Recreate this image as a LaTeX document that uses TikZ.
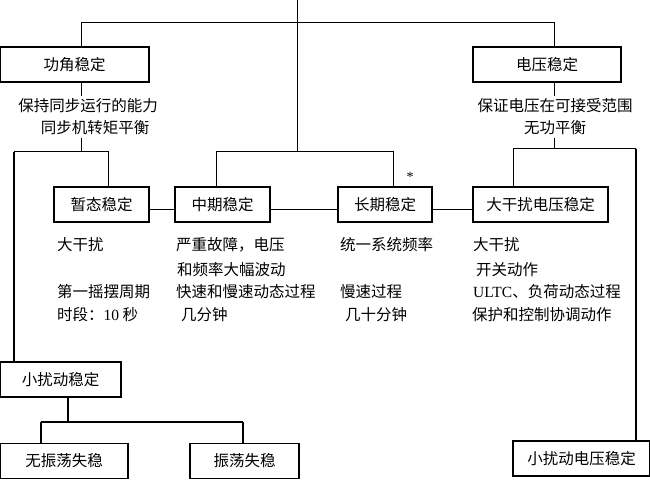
\documentclass[tikz,border=0pt]{standalone}
\usepackage{fontspec}
\setmainfont{Liberation Serif}
\newfontfamily\cjk{Noto Sans CJK SC}
\begin{document}
\begin{tikzpicture}[x=1pt,y=1pt,
  txtfont/.style={font=\cjk\fontsize{15.5}{18}\selectfont},
  box/.style={draw, line width=1.2pt, minimum height=35pt, inner sep=0pt, txtfont},
  bigbox/.style={box, line width=2pt},
  desc/.style={anchor=west, inner sep=0pt, txtfont},
  ctext/.style={inner sep=3pt, txtfont},
  conn/.style={line width=1pt},
  heavy/.style={line width=2.2pt},
  midline/.style={line width=1.6pt}]
\useasboundingbox (0,0) rectangle (650,-481);
% boxes
\node[bigbox, minimum width=149] (gj) at (74.5,-64.5) {功角稳定};
\node[bigbox, minimum width=148] (dy) at (547,-64.5) {电压稳定};
\node[box, minimum width=95] (zt) at (101.5,-204.5) {暂态稳定};
\node[box, minimum width=95] (zq) at (222.5,-204.5) {中期稳定};
\node[box, minimum width=94] (cq) at (385,-204.5) {长期稳定};
\node[box, minimum width=135] (dg) at (540.5,-204.5) {大干扰电压稳定};
\node[box, minimum width=121] (xr) at (60.5,-379.5) {小扰动稳定};
\node[box, minimum width=128] (wz) at (64,-461) {无振荡失稳};
\node[box, minimum width=109] (zd) at (244.5,-461) {振荡失稳};
\node[box, minimum width=137] (xd) at (581.5,-458.5) {小扰动电压稳定};
% centred descriptions
\node[ctext] (gjd1) at (88,-106) {保持同步运行的能力};
\node[ctext] (gjd2) at (95,-128) {同步机转矩平衡};
\node[ctext] (dyd1) at (555,-106) {保证电压在可接受范围};
\node[ctext] (dyd2) at (555,-128) {无功平衡};
\node[inner sep=0pt, font=\fontsize{14}{14}\selectfont] (star) at (410,-177) {*};
% column texts
\node[desc] (t11) at (57,-245) {大干扰};
\node[desc] (t12) at (57,-292) {第一摇摆周期};
\node[desc] (t13) at (57,-315) {时段：{\rmfamily 10} 秒};
\node[desc] (t21) at (176,-245) {严重故障，电压};
\node[desc] (t22) at (177,-270) {和频率大幅波动};
\node[desc] (t23) at (176,-292) {快速和慢速动态过程};
\node[desc] (t24) at (181,-315) {几分钟};
\node[desc] (t31) at (340,-245) {统一系统频率};
\node[desc] (t32) at (340,-292) {慢速过程};
\node[desc] (t33) at (345,-315) {几十分钟};
\node[desc] (t41) at (473,-245) {大干扰};
\node[desc] (t42) at (476,-270) {开关动作};
\node[desc] (t43) at (473,-292) {{\rmfamily ULTC}、负荷动态过程};
\node[desc] (t44) at (472,-315) {保护和控制协调动作};
% connectors
\coordinate (top) at (297,0);
\coordinate (hub) at (297,-152);
\draw[conn] (top) -- (hub);
\coordinate (a1) at (81,-23);
\coordinate (a2) at (554,-23);
\draw[conn] (gj.north -| a1) -- (a1) -- (a2) -- (dy.north -| a2);
\draw[conn] (gj.south -| a1) -- (gjd1.north -| a1);
\coordinate (b0) at (14,-152);
\coordinate (b1) at (81,-152);
\coordinate (b2) at (108,-152);
\draw[conn] (gjd2.south -| a1) -- (b1);
\draw[conn] (b0) -- (b2) -- (zt.north -| b2);
\draw[heavy] (b0) -- (xr.north -| b0);
\coordinate (m1) at (216,-152);
\coordinate (m2) at (393,-152);
\draw[conn] (zq.north -| m1) -- (m1) -- (m2) -- (cq.north -| m2);
\draw[conn] ([yshift=-5pt]zt.east) -- ([yshift=-5pt]zq.west);
\draw[conn] ([yshift=-5pt]zq.east) -- ([yshift=-5pt]cq.west);
\draw[conn] ([yshift=-5pt]cq.east) -- ([yshift=-5pt]dg.west);
\coordinate (r0) at (554,-149);
\coordinate (r1) at (513,-149);
\coordinate (r2) at (636,-149);
\draw[conn] (dy.south -| r0) -- (dyd1.north -| r0);
\draw[conn] (dyd2.south -| r0) -- (r0);
\draw[conn] (dg.north -| r1) -- (r1) -- (r2);
\draw[heavy] (r2) -- (xd.north -| r2);
\coordinate (c0) at (68,-422);
\coordinate (c1) at (41,-422);
\coordinate (c2) at (243,-422);
\draw[midline] (xr.south -| c0) -- (c0);
\draw[midline] (c1) -- (c2);
\draw[midline] (c1) -- (wz.north -| c1);
\draw[midline] (c2) -- (zd.north -| c2);
\end{tikzpicture}
\end{document}
